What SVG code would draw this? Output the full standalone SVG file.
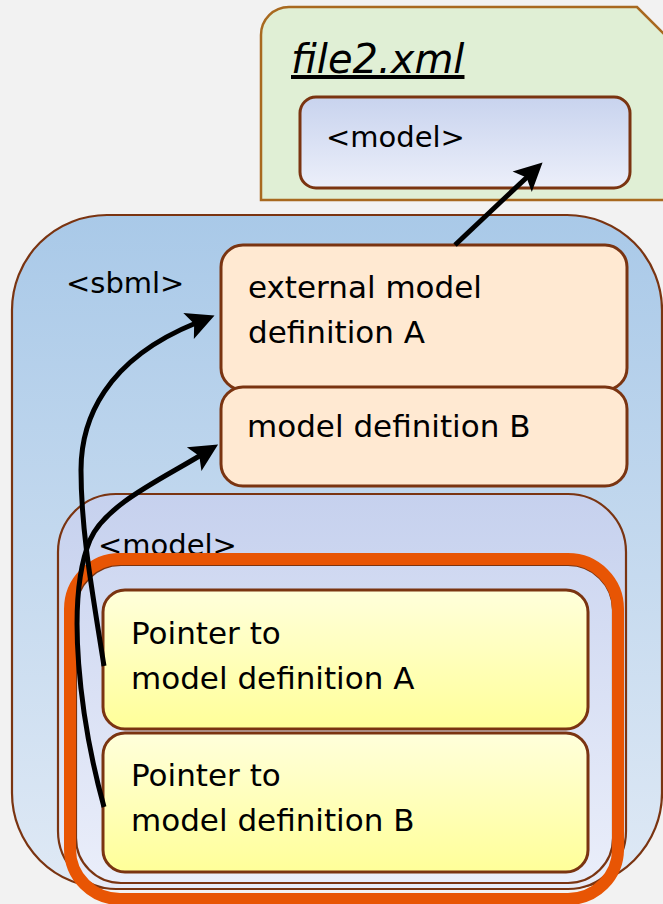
<svg xmlns="http://www.w3.org/2000/svg" width="663" height="904" viewBox="0 0 663 904">
<defs>
<style>
.t{font-family:"DejaVu Sans","Liberation Sans",sans-serif;fill:#000;}
.b{font-size:31px;}
.tag{font-size:29px;}
.box{stroke:#7a3411;stroke-width:3;}
.thin{stroke:#7a3411;stroke-width:2.2;}
.arr{fill:none;stroke:#000;stroke-width:5;}
</style>
<linearGradient id="gSbml" x1="0" y1="0" x2="0" y2="1"><stop offset="0" stop-color="#a9c9e8"/><stop offset="1" stop-color="#dfe9f5"/></linearGradient>
<linearGradient id="gModel" x1="0" y1="0" x2="0" y2="1"><stop offset="0" stop-color="#c6d1ee"/><stop offset="1" stop-color="#e8ecf8"/></linearGradient>
<linearGradient id="gInner" x1="0" y1="0" x2="0" y2="1"><stop offset="0" stop-color="#cfd8f1"/><stop offset="1" stop-color="#eaeefa"/></linearGradient>
<linearGradient id="gFileModel" x1="0" y1="0" x2="0" y2="1"><stop offset="0" stop-color="#c8d3ee"/><stop offset="1" stop-color="#eceffa"/></linearGradient>
<linearGradient id="gPtr" x1="0" y1="0" x2="0" y2="1"><stop offset="0" stop-color="#ffffdb"/><stop offset="1" stop-color="#ffff99"/></linearGradient>
<marker id="ah" markerUnits="userSpaceOnUse" viewBox="-30 -16 34 32" markerWidth="34" markerHeight="32" refX="-20" refY="0" orient="auto">
<path d="M0,0 L-28,-14 L-22,0 L-28,14 Z" fill="#000"/>
</marker>
</defs>
<rect x="0" y="0" width="663" height="904" fill="#f2f2f2"/>

<g id="file2">
<path d="M261,35 A28,28 0 0 1 289,7 L637,7 L675,45 L675,200 L261,200 Z" fill="#e0efd5" stroke="#a8691f" stroke-width="2.5"/>
<text class="t" x="291" y="73" font-size="40" font-style="italic" text-decoration="underline">file2.xml</text>
</g>
<g id="file2-model">
<rect x="300" y="97" width="330" height="91" rx="16" fill="url(#gFileModel)" class="box"/>
<text class="t tag" x="326" y="147">&lt;model&gt;</text>
</g>

<g id="sbml">
<rect x="12" y="215" width="650" height="673" rx="95" fill="url(#gSbml)" class="thin"/>
<text class="t tag" x="66" y="293">&lt;sbml&gt;</text>
</g>

<g id="extA">
<rect x="221" y="245" width="406" height="145" rx="22" fill="#ffe9d2" class="box"/>
<text class="t b" x="248" y="298">external model</text>
<text class="t b" x="248" y="343">definition A</text>
</g>
<g id="defB">
<rect x="221" y="387" width="406" height="99" rx="22" fill="#ffe9d2" class="box"/>
<text class="t b" x="247" y="437">model definition B</text>
</g>

<g id="model">
<rect x="58" y="494" width="568" height="395" rx="58" fill="url(#gModel)" class="thin"/>
<text class="t tag" x="98" y="555">&lt;model&gt;</text>
</g>

<g id="submodels">
<rect x="76" y="565" width="537" height="318" rx="45" fill="url(#gInner)" class="thin"/>
<rect x="70" y="559" width="548" height="340" rx="50" fill="none" stroke="#e85504" stroke-width="12"/>
</g>

<g id="ptrA">
<rect x="103" y="590" width="485" height="139" rx="22" fill="url(#gPtr)" class="box"/>
<text class="t b" x="131" y="644">Pointer to</text>
<text class="t b" x="131" y="689">model definition A</text>
</g>
<g id="ptrB">
<rect x="103" y="733" width="485" height="139" rx="22" fill="url(#gPtr)" class="box"/>
<text class="t b" x="131" y="786">Pointer to</text>
<text class="t b" x="131" y="831">model definition B</text>
</g>

<g id="connectors">
<path class="arr" d="M455,245 L528,176.2" marker-end="url(#ah)"/>
<path class="arr" d="M104,666 C92,590 81,530 81,470 C81,420 105,360 196,323" marker-end="url(#ah)"/>
<path class="arr" d="M104,807 C80,720 65,600 90,540 C105,505 160,480 201,455" marker-end="url(#ah)"/>
</g>
</svg>
